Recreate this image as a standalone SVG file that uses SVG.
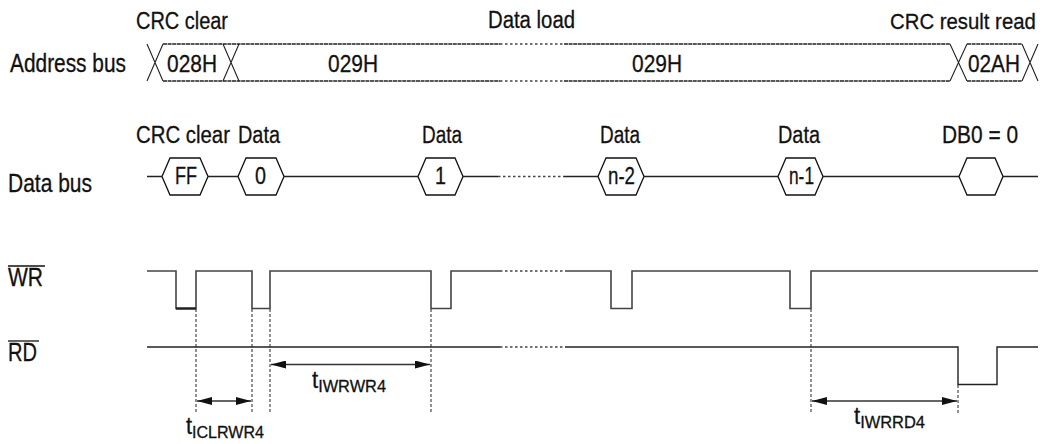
<svg xmlns="http://www.w3.org/2000/svg" width="1049" height="444" viewBox="0 0 1049 444">
<defs>
<style>
text{font-family:"Liberation Sans",Arial,sans-serif;fill:#111;stroke:#111;stroke-width:0.3;}
.lbl{font-size:25px;}
.ann{font-size:23px;}
.box{font-size:24px;}
.sub{font-size:17px;}
.sig{fill:none;stroke:#222;stroke-width:1.4;}
.wr{fill:none;stroke:#444;stroke-width:1.6;}
.bus{fill:none;stroke:#222;stroke-width:1.5;stroke-dasharray:4 0.6;}
.dot{fill:none;stroke:#444;stroke-width:1.4;stroke-dasharray:2.5 2.5;}
.x{fill:none;stroke:#222;stroke-width:1.1;}
.hex{fill:#fff;stroke:#111;stroke-width:1.3;}
.guide{fill:none;stroke:#222;stroke-width:1;stroke-dasharray:3 2;}
.dim{fill:none;stroke:#333;stroke-width:1.3;}
</style>
<marker id="ah" viewBox="0 0 15 8" refX="15" refY="4" markerWidth="15" markerHeight="8" markerUnits="userSpaceOnUse" orient="auto-start-reverse">
<path d="M0,0 L15,4 L0,8 Z" fill="#111"/>
</marker>
</defs>

<g id="labels">
<text class="lbl" x="10" y="72" textLength="116" lengthAdjust="spacingAndGlyphs">Address bus</text>
<text class="lbl" x="8" y="192" textLength="84" lengthAdjust="spacingAndGlyphs">Data bus</text>
<text class="lbl" x="8" y="286" textLength="35" lengthAdjust="spacingAndGlyphs">WR</text>
<line x1="8" y1="266" x2="45" y2="266" stroke="#111" stroke-width="1.3"/>
<text class="lbl" x="8" y="361" textLength="29" lengthAdjust="spacingAndGlyphs">RD</text>
<line x1="8" y1="341" x2="39" y2="341" stroke="#111" stroke-width="1.3"/>
</g>

<g id="annotations">
<text class="ann" x="136" y="29" textLength="92" lengthAdjust="spacingAndGlyphs">CRC clear</text>
<text class="ann" x="488" y="28" textLength="87" lengthAdjust="spacingAndGlyphs">Data load</text>
<text class="ann" x="0" y="0" transform="translate(890,29) scale(0.885,1)">CRC result read</text>
<text class="ann" x="136" y="143" textLength="94" lengthAdjust="spacingAndGlyphs">CRC clear</text>
<text class="ann" x="238" y="143" textLength="42" lengthAdjust="spacingAndGlyphs">Data</text>
<text class="ann" x="422" y="143" textLength="40" lengthAdjust="spacingAndGlyphs">Data</text>
<text class="ann" x="600" y="143" textLength="40" lengthAdjust="spacingAndGlyphs">Data</text>
<text class="ann" x="778" y="143" textLength="42" lengthAdjust="spacingAndGlyphs">Data</text>
<text class="ann" x="942" y="143" textLength="76" lengthAdjust="spacingAndGlyphs">DB0 = 0</text>
</g>

<g id="address-bus">
<path class="bus" d="M163,44 H500 M564,44 H950 M967,44 H1022"/>
<path class="bus" d="M163,81 H500 M564,81 H950 M967,81 H1022"/>
<path class="dot" d="M500,44 H564 M500,81 H564"/>
<path class="x" d="M147,44 L163,81 M147,81 L163,44"/>
<path class="x" d="M223,44 L239,81 M223,81 L239,44"/>
<path class="x" d="M950,44 L967,81 M950,81 L967,44"/>
<path class="x" d="M1022,44 L1038,81 M1022,81 L1038,44"/>
<text class="box" x="167" y="72" textLength="50" lengthAdjust="spacingAndGlyphs">028H</text>
<text class="box" x="328" y="72" textLength="50" lengthAdjust="spacingAndGlyphs">029H</text>
<text class="box" x="632" y="72" textLength="50" lengthAdjust="spacingAndGlyphs">029H</text>
<text class="box" x="968" y="72" textLength="52" lengthAdjust="spacingAndGlyphs">02AH</text>
</g>

<g id="data-bus">
<path class="sig" d="M147,176.5 H162 M208,176.5 H238 M284,176.5 H418 M463,176.5 H498 M564,176.5 H598 M644,176.5 H778 M823,176.5 H959 M1003,176.5 H1038"/>
<path class="dot" d="M498,176.5 H564"/>
<g id="hex-ff"><polygon class="hex" points="162,176.5 170,158 200,158 208,176.5 200,195 170,195"/><text class="box" x="175" y="184" textLength="22" lengthAdjust="spacingAndGlyphs">FF</text></g>
<g id="hex-0"><polygon class="hex" points="238,176.5 246,158 276,158 284,176.5 276,195 246,195"/><text class="box" x="255" y="184" textLength="11" lengthAdjust="spacingAndGlyphs">0</text></g>
<g id="hex-1"><polygon class="hex" points="418,176.5 426,158 455,158 463,176.5 455,195 426,195"/><text class="box" x="435" y="184" textLength="11" lengthAdjust="spacingAndGlyphs">1</text></g>
<g id="hex-n2"><polygon class="hex" points="598,176.5 606,158 636,158 644,176.5 636,195 606,195"/><text class="box" x="608" y="184" textLength="27" lengthAdjust="spacingAndGlyphs">n-2</text></g>
<g id="hex-n1"><polygon class="hex" points="778,176.5 786,158 815,158 823,176.5 815,195 786,195"/><text class="box" x="789" y="184" textLength="25" lengthAdjust="spacingAndGlyphs">n-1</text></g>
<g id="hex-db0"><polygon class="hex" points="959,176.5 967,158 995,158 1003,176.5 995,195 967,195"/></g>
</g>

<g id="wr-signal">
<path class="wr" d="M147,271 H176 V308.5 H196 V271 H252 V308.5 H270 V271 H431 V308.5 H451 V271 H500"/>
<path class="wr" d="M565,271 H611 V308.5 H632 V271 H790 V308.5 H811 V271 H1038"/>
<path class="dot" d="M500,271 H565"/>
<path d="M176,308.5 H196" stroke="#222" stroke-width="2.4"/>
</g>

<g id="rd-signal">
<path class="sig" d="M147,347 H500 M565,347 H958 V384.5 H997 V347 H1038"/>
<path class="dot" d="M500,347 H565"/>
</g>

<g id="connectors">
<path class="guide" d="M196,309 V413 M252,309 V413 M270,309 V413 M431,309 V413 M811,309 V413 M958,385 V414"/>
<line class="dim" x1="197" y1="401" x2="251" y2="401" marker-start="url(#ah)" marker-end="url(#ah)"/>
<line class="dim" x1="271" y1="364.5" x2="430" y2="364.5" marker-start="url(#ah)" marker-end="url(#ah)"/>
<line class="dim" x1="812" y1="401" x2="957" y2="401" marker-start="url(#ah)" marker-end="url(#ah)"/>
</g>

<g id="timing-labels">
<text x="186" y="434" font-size="23" textLength="78" lengthAdjust="spacingAndGlyphs">t<tspan class="sub" dy="4">ICLRWR4</tspan></text>
<text x="312" y="388" font-size="23" textLength="74" lengthAdjust="spacingAndGlyphs">t<tspan class="sub" dy="4">IWRWR4</tspan></text>
<text x="854" y="424" font-size="23" textLength="71" lengthAdjust="spacingAndGlyphs">t<tspan class="sub" dy="4">IWRRD4</tspan></text>
</g>
</svg>
